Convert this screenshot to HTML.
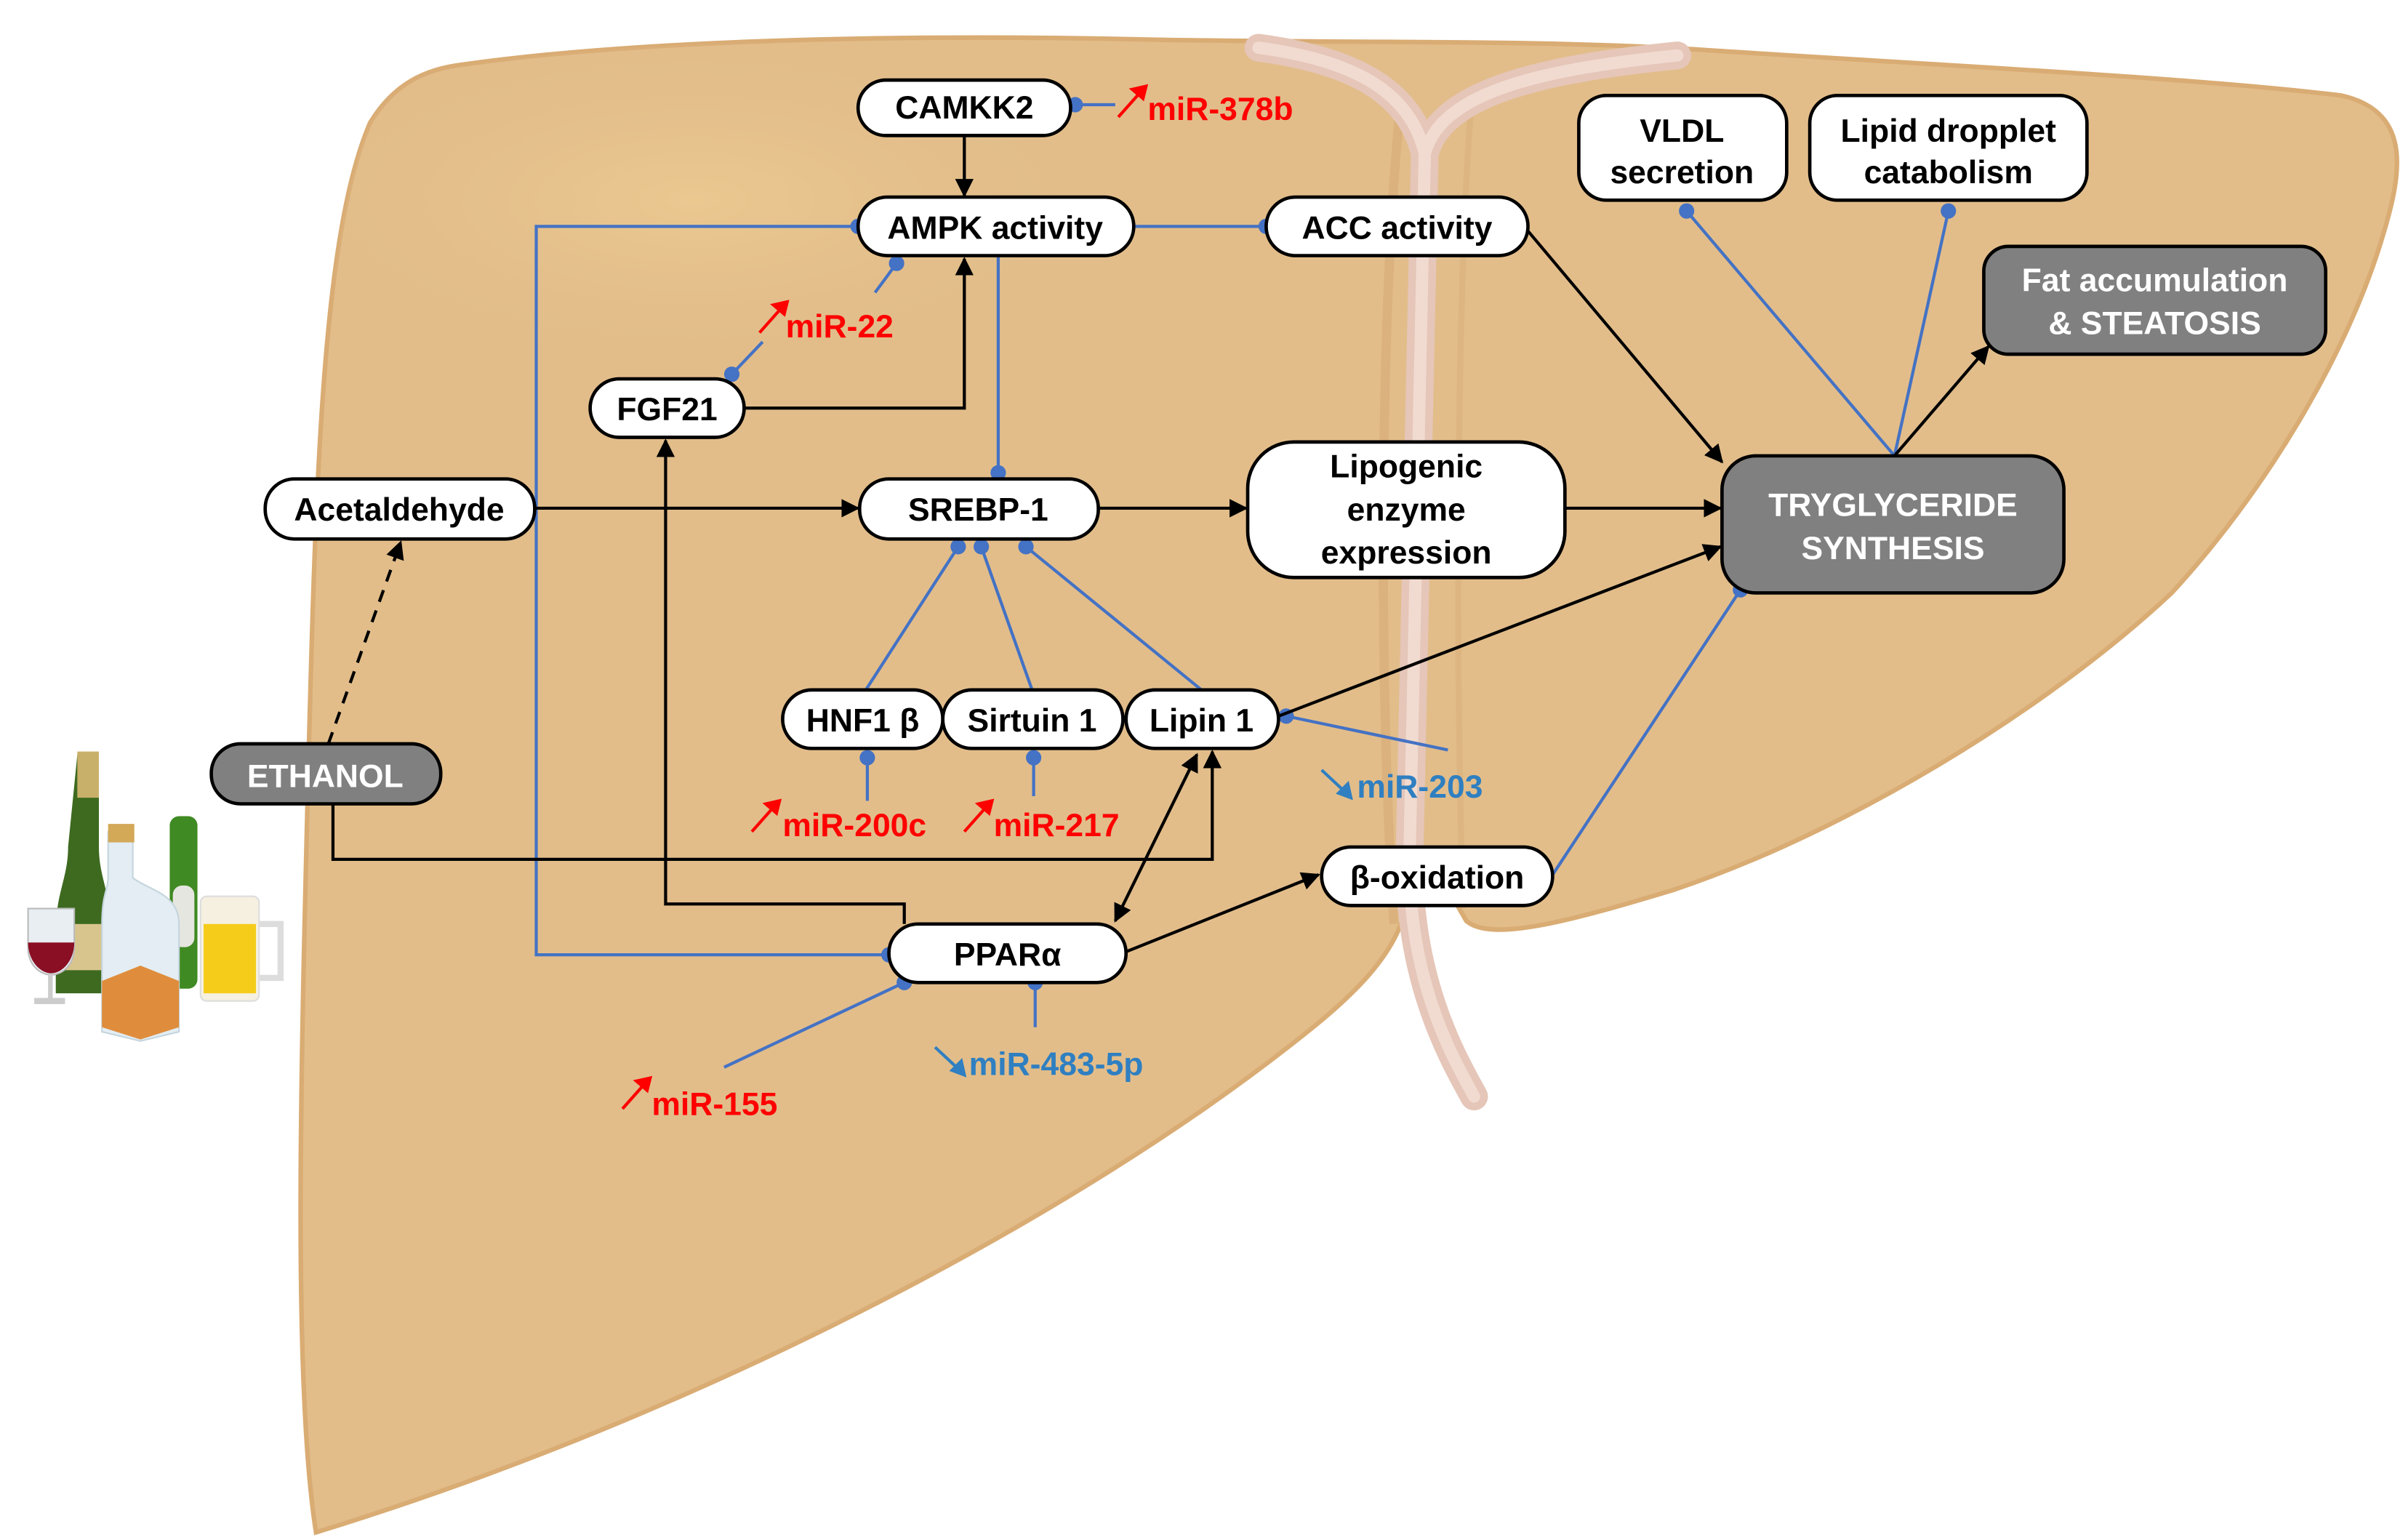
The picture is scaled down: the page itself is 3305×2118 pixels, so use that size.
<!DOCTYPE html>
<html><head><meta charset="utf-8"><style>
html,body{margin:0;padding:0;background:#fff}
svg{display:block}
text{font-family:"Liberation Sans",Arial,sans-serif;font-weight:bold}
</style></head><body>
<svg width="3305" height="2118" viewBox="0 0 1560 1000" xmlns="http://www.w3.org/2000/svg">
<defs>
<marker id="a" viewBox="0 0 10 10" refX="9" refY="5" markerWidth="6" markerHeight="6" orient="auto-start-reverse"><path d="M0,0 L10,5 L0,10 z" fill="#000"/></marker>
<radialGradient id="g" cx="0.5" cy="0.5" r="0.5"><stop offset="0" stop-color="#ebc890"/><stop offset="1" stop-color="#e2bd8a" stop-opacity="0"/></radialGradient>
<path id="liver" d="M300,42 C420,25 600,22 760,26 C900,28 1000,26 1100,32 C1250,42 1420,50 1520,62 C1565,72 1560,110 1548,150 C1525,230 1470,320 1410,385 C1330,460 1200,540 1086,578 C1020,598 968,612 952,598 L930,560 L912,592 C905,620 880,645 850,669 C700,790 450,920 205,995 C190,900 195,700 200,500 C205,300 210,150 240,80 C255,55 275,45 300,42 Z"/>
<clipPath id="lc"><use href="#liver"/></clipPath>
</defs>
<!-- liver -->
<use href="#liver" fill="#e2bd8a" stroke="#d9ac74" stroke-width="3"/>
<g clip-path="url(#lc)">
<ellipse cx="450" cy="130" rx="280" ry="110" fill="url(#g)"/>
<path d="M910,60 C895,200 895,450 905,600" fill="none" stroke="#d8ad78" stroke-width="6" opacity="0.7"/>
<path d="M955,70 C945,200 945,450 950,590" fill="none" stroke="#d8ad78" stroke-width="4" opacity="0.5"/>
</g>
<!-- ligament -->
<g fill="none" stroke-linecap="round">
<path d="M817,31 C870,38 915,55 925,100 M1089,36 C1000,45 935,60 925,100 L915,560 C915,640 945,690 957,712" stroke="#e5c6b8" stroke-width="18"/>
<path d="M817,31 C870,38 915,55 925,100 M1089,36 C1000,45 935,60 925,100 L915,560 C915,640 945,690 957,712" stroke="#f1dbd0" stroke-width="8"/>
</g>
<!-- drinks -->
<g>
<path d="M50,490 h14 v60 c0,20 8,30 8,55 v40 h-36 v-40 c0,-25 8,-35 8,-55 z" fill="#3d6a1f"/>
<rect x="50" y="488" width="14" height="30" fill="#c9b06a"/>
<rect x="38" y="600" width="32" height="30" fill="#d8c58e"/>
<path d="M18,590 h30 v25 c0,12 -8,18 -15,18 c-7,0 -15,-6 -15,-18 z" fill="#e8eef2" stroke="#bbb"/>
<path d="M18,612 h30 c0,12 -8,20 -15,20 c-7,0 -15,-8 -15,-20 z" fill="#8a0f24"/>
<rect x="31" y="632" width="3" height="18" fill="#ccc"/><rect x="22" y="648" width="20" height="4" fill="#ccc"/>
<rect x="110" y="530" width="18" height="112" rx="6" fill="#3f8a22"/>
<rect x="112" y="575" width="14" height="40" rx="6" fill="#e6e6e0"/>
<path d="M70,540 h16 v30 c10,8 30,10 30,30 v70 l-25,6 l-25,-6 v-70 c0,-20 4,-22 4,-30 z" fill="#e3edf3" stroke="#c5d5de"/>
<rect x="70" y="535" width="17" height="12" fill="#d3a857"/>
<path d="M66,637 l25,-10 l25,10 v30 l-25,8 l-25,-8 z" fill="#df8d3c"/>
<rect x="130" y="582" width="38" height="68" rx="4" fill="#f6f0e0" stroke="#ddd"/>
<rect x="132" y="600" width="34" height="45" fill="#f5cc1a"/>
<path d="M168,600 h14 v35 h-14" fill="none" stroke="#ddd" stroke-width="4"/>
</g>
<!-- connectors blue -->
<g stroke="#4472c4" stroke-width="2" fill="none">
<line x1="697" y1="68" x2="724" y2="68"/>
<polyline points="557,147 348,147 348,620 577,620"/>
<line x1="736" y1="147" x2="822" y2="147"/>
<line x1="582" y1="171" x2="568" y2="190"/>
<line x1="475" y1="243" x2="495" y2="222"/>
<line x1="648" y1="166" x2="648" y2="307"/>
<line x1="622" y1="355" x2="562" y2="448"/>
<line x1="637" y1="355" x2="670" y2="448"/>
<line x1="666" y1="355" x2="780" y2="448"/>
<line x1="563" y1="492" x2="563" y2="520"/>
<line x1="671" y1="492" x2="671" y2="517"/>
<line x1="835" y1="465" x2="940" y2="487"/>
<line x1="1008" y1="568" x2="1130" y2="383"/>
<line x1="587" y1="638" x2="470" y2="693"/>
<line x1="672" y1="638" x2="672" y2="667"/>
<line x1="1230" y1="296" x2="1095" y2="137"/>
<line x1="1230" y1="296" x2="1265" y2="137"/>
</g>
<g fill="#4472c4">
<circle cx="698" cy="68" r="5"/><circle cx="557" cy="147" r="5"/><circle cx="822" cy="147" r="5"/>
<circle cx="582" cy="171" r="5"/><circle cx="475" cy="243" r="5"/><circle cx="648" cy="307" r="5"/>
<circle cx="622" cy="355" r="5"/><circle cx="637" cy="355" r="5"/><circle cx="666" cy="355" r="5"/>
<circle cx="563" cy="492" r="5"/><circle cx="671" cy="492" r="5"/><circle cx="835" cy="465" r="5"/>
<circle cx="1130" cy="383" r="5"/><circle cx="577" cy="620" r="5"/><circle cx="587" cy="638" r="5"/>
<circle cx="672" cy="638" r="5"/><circle cx="1095" cy="137" r="5"/><circle cx="1265" cy="137" r="5"/>
</g>
<!-- black connectors -->
<g stroke="#000" stroke-width="2" fill="none" marker-end="url(#a)">
<line x1="626" y1="88" x2="626" y2="127"/>
<polyline points="483,265 626,265 626,168"/>
<line x1="992" y1="150" x2="1118" y2="300"/>
<line x1="347" y1="330" x2="557" y2="330"/>
<line x1="713" y1="330" x2="809" y2="330"/>
<line x1="1016" y1="330" x2="1117" y2="330"/>
<line x1="830" y1="465" x2="1117" y2="355"/>
<line x1="213" y1="483" x2="260" y2="352" stroke-dasharray="8,6"/>
<polyline points="216,522 216,558 787,558 787,488"/>
<polyline points="587,600 587,587 432,587 432,286"/>
<line x1="731" y1="618" x2="856" y2="568"/>
<line x1="1230" y1="296" x2="1291" y2="225"/>
</g>
<line x1="777" y1="490" x2="724" y2="598" stroke="#000" stroke-width="2" marker-start="url(#a)" marker-end="url(#a)"/>
<!-- nodes -->
<g stroke="#000" stroke-width="2.2" fill="#fff">
<rect x="557" y="52" width="138" height="36" rx="18"/>
<rect x="557" y="128" width="179" height="38" rx="19"/>
<rect x="822" y="128" width="170" height="38" rx="19"/>
<rect x="1025" y="62" width="135" height="68" rx="18"/>
<rect x="1175" y="62" width="180" height="68" rx="18"/>
<rect x="383" y="246" width="100" height="38" rx="19"/>
<rect x="172" y="311" width="175" height="39" rx="19"/>
<rect x="558" y="311" width="155" height="39" rx="19"/>
<rect x="810" y="287" width="206" height="88" rx="30"/>
<rect x="508" y="448" width="104" height="38" rx="19"/>
<rect x="612" y="448" width="117" height="38" rx="19"/>
<rect x="731" y="448" width="99" height="38" rx="19"/>
<rect x="858" y="550" width="150" height="38" rx="19"/>
<rect x="577" y="600" width="154" height="38" rx="19"/>
</g>
<g stroke="#000" stroke-width="2.2" fill="#808080">
<rect x="1288" y="160" width="222" height="70" rx="16"/>
<rect x="1118" y="296" width="222" height="89" rx="22"/>
<rect x="137" y="483" width="149" height="39" rx="19"/>
</g>
<!-- text -->
<g font-size="21" text-anchor="middle" fill="#000">
<text x="626" y="77">CAMKK2</text>
<text x="646" y="155">AMPK activity</text>
<text x="907" y="155">ACC activity</text>
<text x="1092" y="92">VLDL</text><text x="1092" y="119">secretion</text>
<text x="1265" y="92">Lipid dropplet</text><text x="1265" y="119">catabolism</text>
<text x="433" y="273">FGF21</text>
<text x="259" y="338">Acetaldehyde</text>
<text x="635" y="338">SREBP-1</text>
<text x="913" y="310">Lipogenic</text><text x="913" y="338">enzyme</text><text x="913" y="366">expression</text>
<text x="560" y="475">HNF1 β</text>
<text x="670" y="475">Sirtuin 1</text>
<text x="780" y="475">Lipin 1</text>
<text x="933" y="577">β-oxidation</text>
<text x="654" y="627">PPARα</text>
</g>
<g font-size="21" text-anchor="middle" fill="#fff">
<text x="1399" y="189">Fat accumulation</text><text x="1399" y="217">&amp; STEATOSIS</text>
<text x="1229" y="335">TRYGLYCERIDE</text><text x="1229" y="363">SYNTHESIS</text>
<text x="211" y="511">ETHANOL</text>
</g>
<!-- miRNAs -->
<g stroke="#ff0000" stroke-width="2" fill="#ff0000">
<line x1="726" y1="76" x2="742" y2="58"/><path d="M744,56 l-9,2 l7,6 z"/>
<line x1="493" y1="216" x2="509" y2="198"/><path d="M511,196 l-9,2 l7,6 z"/>
<line x1="488" y1="540" x2="504" y2="522"/><path d="M506,520 l-9,2 l7,6 z"/>
<line x1="626" y1="540" x2="642" y2="522"/><path d="M644,520 l-9,2 l7,6 z"/>
<line x1="404" y1="720" x2="420" y2="702"/><path d="M422,700 l-9,2 l7,6 z"/>
</g>
<g stroke="#2f7fc1" stroke-width="2" fill="#2f7fc1">
<line x1="858" y1="500" x2="873" y2="514"/><path d="M877,518 l-2,-9 l-6,6 z"/>
<line x1="607" y1="680" x2="622" y2="694"/><path d="M626,698 l-2,-9 l-6,6 z"/>
</g>
<g font-size="21" fill="#ff0000">
<text x="745" y="78">miR-378b</text>
<text x="510" y="219">miR-22</text>
<text x="508" y="543">miR-200c</text>
<text x="645" y="543">miR-217</text>
<text x="423" y="724">miR-155</text>
</g>
<g font-size="21" fill="#2f7fc1">
<text x="881" y="518">miR-203</text>
<text x="629" y="698">miR-483-5p</text>
</g>
</svg>
</body></html>
